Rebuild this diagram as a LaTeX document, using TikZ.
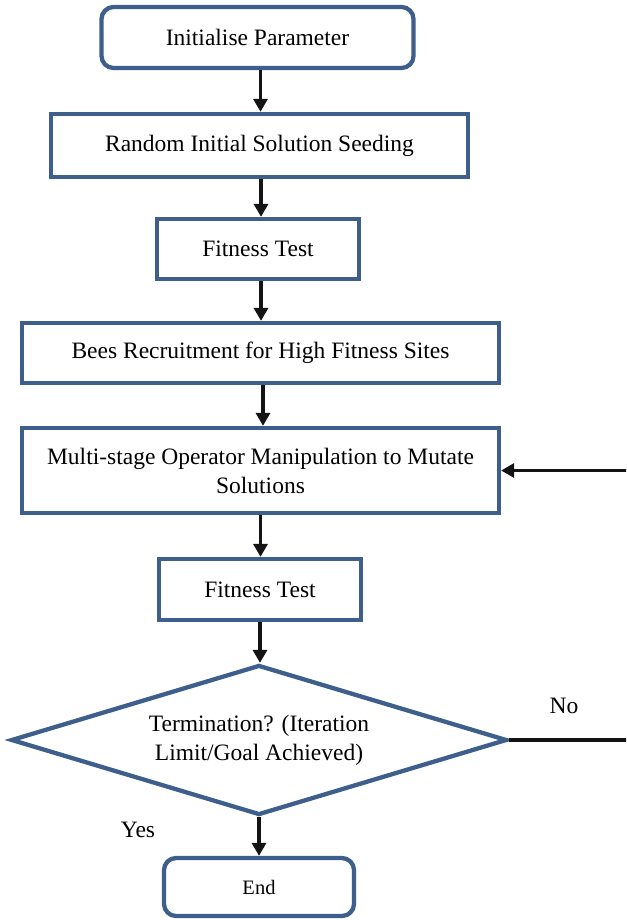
\documentclass[tikz,border=0pt]{standalone}
\usepackage{fontspec}
\setmainfont{Liberation Serif}
\usetikzlibrary{arrows.meta,shapes.geometric}
\definecolor{frameblue}{RGB}{62,95,140}
\begin{document}
\begin{tikzpicture}[x=1pt,y=-1pt,
  every node/.style={font=\fontsize{23.5}{29}\selectfont, text=black},
  stepbox/.style={draw=frameblue, line width=4.3pt, fill=white, inner sep=0pt, align=center},
  termbox/.style={stepbox, rounded corners=12pt},
  decision/.style={draw=frameblue, line width=4.3pt, diamond, inner sep=0pt, align=center},
  arr/.style={line width=3.2pt, black!92, -{Triangle[length=13pt,width=14pt]}},
  lbl/.style={inner sep=0pt}]
\useasboundingbox (0,0) rectangle (626,920);
\clip (0,0) rectangle (626,920);

% process steps, top to bottom
\node[termbox, minimum width=312pt, minimum height=61pt] (init) at (257.5,37.5) {Initialise Parameter};
\node[stepbox, minimum width=417pt, minimum height=63pt] (seed) at (259.5,145.5) {Random Initial Solution Seeding};
\node[stepbox, minimum width=202pt, minimum height=60pt] (fit1) at (258,249) {Fitness Test};
\node[stepbox, minimum width=477pt, minimum height=60pt] (bees) at (260.5,353) {Bees Recruitment for High Fitness Sites};
\node[stepbox, minimum width=477pt, minimum height=85pt] (mutate) at (260.5,470.5) {Multi-stage Operator Manipulation to Mutate\\Solutions};
\node[stepbox, minimum width=202pt, minimum height=61pt] (fit2) at (260,589.5) {Fitness Test};
\node[decision, minimum width=496pt, minimum height=150pt, aspect=3.3] (term) at (259,740) {Termination? (Iteration\\Limit/Goal Achieved)};
\node[termbox, minimum width=190pt, minimum height=58pt, font=\fontsize{20.5}{25}\selectfont] (end) at (259,887) {End};

% branch labels
\node[lbl] (no) at (564,706) {No};
\node[lbl] (yes) at (138,830) {Yes};

% return path of the loop runs past the right edge
\coordinate (loop) at (680,740);

\draw[arr] ([xshift=3pt]init.south) -- ([xshift=3pt]init.south |- seed.north);
\draw[arr] ([xshift=1.5pt]seed.south) -- ([xshift=1.5pt]seed.south |- fit1.north);
\draw[arr] ([xshift=3pt]fit1.south) -- ([xshift=3pt]fit1.south |- bees.north);
\draw[arr] ([xshift=2.5pt]bees.south) -- ([xshift=2.5pt]bees.south |- mutate.north);
\draw[arr] (mutate.south) -- (mutate.south |- fit2.north);
\draw[arr] (fit2.south) -- (fit2.south |- term.north);
\draw[arr] (term.south) -- (term.south |- end.north);
\draw[arr] (term.east) -- (loop) |- (mutate.east);
\end{tikzpicture}
\end{document}
